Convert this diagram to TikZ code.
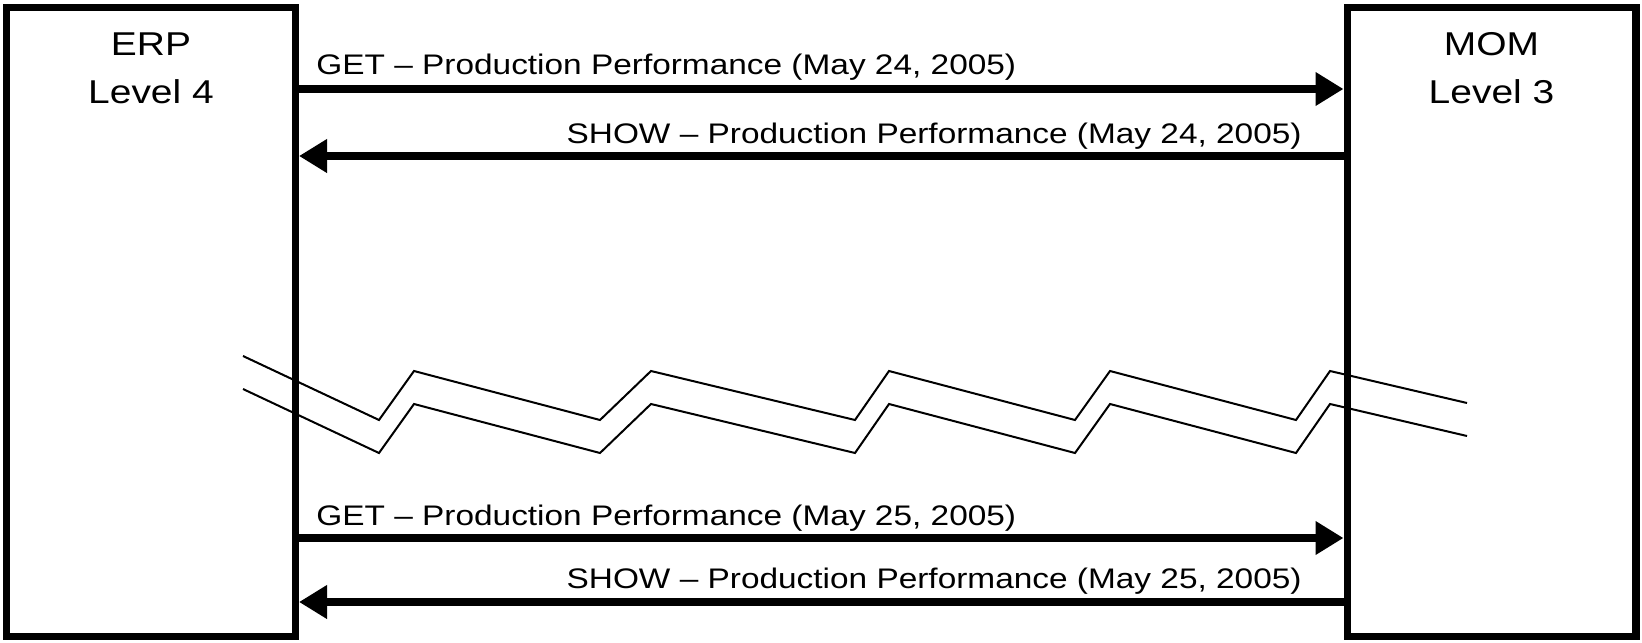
\documentclass[tikz,border=0pt]{standalone}
\usepackage{fontspec}
\usepackage{tikz}
\usetikzlibrary{arrows.meta}
\newfontfamily\labelfont[FakeStretch=1.18]{Liberation Sans}

\begin{document}
\begin{tikzpicture}[x=0.5pt,y=-0.5pt,
        sysbox/.style={draw,line width=3.6pt,minimum width=144.4pt,minimum height=314.4pt,inner sep=0pt},
        sysname/.style={anchor=north,inner sep=0pt,align=center,font=\labelfont\fontsize{16.5}{24}\selectfont},
        msg/.style={line width=3.6pt,-{Triangle[length=14pt,width=16pt]}},
        msgtext/.style={inner sep=0pt,font=\labelfont\fontsize{14.15}{16}\selectfont},
        wire/.style={line width=1pt,line join=miter}]
        \useasboundingbox (0,0) rectangle (1642,642);
        \node[sysbox] (erp) at (151,322) {};
        \node[sysbox] (mom) at (1491.5,322) {};
        \node[sysname] (erpname) at (151,32) {ERP\\Level 4};
        \node[sysname] (momname) at (1491.5,32) {MOM\\Level 3};
        % first day
        \coordinate (get1) at (0,89);
        \coordinate (show1) at (0,156);
        \draw[msg] (erp.east |- get1) -- (mom.west |- get1);
        \draw[msg] (mom.west |- show1) -- (erp.east |- show1);
        \node[msgtext,anchor=base west] (get1text) at (316,75) {GET – Production Performance (May 24, 2005)};
        \node[msgtext,anchor=base east] (show1text) at (1302,143) {SHOW – Production Performance (May 24, 2005)};
        % time break
        \foreach \dy in {0,33}{
            \draw[wire,shift={(0,\dy)}] (243,356) -- (379,420) -- (414,371) -- (600,420) -- (651,371) -- (855,420)
                -- (889,371) -- (1075,420) -- (1110,371) -- (1296,420) -- (1330,371) -- (1467,403);
        }
        % next day
        \coordinate (get2) at (0,538);
        \coordinate (show2) at (0,602);
        \draw[msg] (erp.east |- get2) -- (mom.west |- get2);
        \draw[msg] (mom.west |- show2) -- (erp.east |- show2);
        \node[msgtext,anchor=base west] (get2text) at (316,525) {GET – Production Performance (May 25, 2005)};
        \node[msgtext,anchor=base east] (show2text) at (1302,588) {SHOW – Production Performance (May 25, 2005)};
\end{tikzpicture}
\end{document}
